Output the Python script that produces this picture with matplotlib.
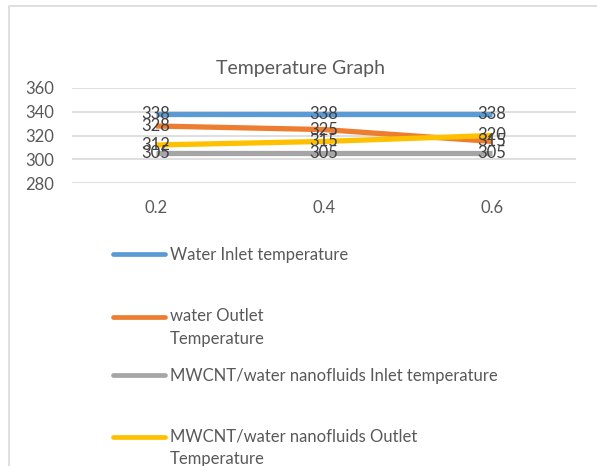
import matplotlib.pyplot as plt
from matplotlib.lines import Line2D
from matplotlib.patches import Rectangle

# data
categories = ['0.2', '0.4', '0.6']
water_inlet = [338, 338, 338]
water_outlet = [328, 325, 315]
nano_inlet = [305, 305, 305]
nano_outlet = [312, 315, 320]
series = [water_inlet, water_outlet, nano_inlet, nano_outlet]
names = ['Water Inlet temperature', 'water Outlet\nTemperature',
         'MWCNT/water nanofluids Inlet temperature',
         'MWCNT/water nanofluids Outlet\nTemperature']
colors = ['#5B9BD5', '#ED7D31', '#A5A5A5', '#FFC000']
y_ticks = [280, 300, 320, 340, 360]

plt.rcParams['font.family'] = ['Lato', 'DejaVu Sans']
txt = '#595959'
fs = 12
W, H = 597, 466

fig = plt.figure(figsize=(W / 100, H / 100), dpi=100)
ax = fig.add_axes([72 / W, 1 - 183 / H, (576 - 72) / W, (183 - 88) / H])

x = list(range(len(categories)))
for vals, col in zip(series, colors):
    ax.plot(x, vals, color=col, lw=3.8, solid_capstyle='butt', zorder=3)
for vals in series:
    for xi, v in zip(x, vals):
        ax.text(xi, v, str(v), ha='center', va='center', fontsize=fs,
                color='#404040', zorder=5)

ax.set_xlim(-0.5, len(categories) - 0.5)
ax.set_ylim(y_ticks[0], y_ticks[-1])
ax.set_yticks(y_ticks)
ax.set_xticks(x)
ax.set_xticklabels(categories)
ax.grid(axis='y', color='#d9d9d9', lw=1.2)
ax.set_axisbelow(True)
for s in ax.spines.values():
    s.set_visible(False)
ax.tick_params(axis='both', length=0, labelsize=fs, labelcolor=txt)
ax.tick_params(axis='y', pad=13)
ax.tick_params(axis='x', pad=12)

fig.text(300 / W, 1 - 68 / H, 'Temperature Graph', ha='center', va='center',
         fontsize=14, color=txt)

# one legend per entry (second line of wrapped names hangs below)
leg_y = [255, 316, 376, 436]
for name, col, yy in zip(names, colors, leg_y):
    lab = '\n' + name if '\n' in name else name
    h = Line2D([0], [0], color=col, lw=3.4, solid_capstyle='round')
    lg = fig.legend([h], [lab], loc='center left', bbox_to_anchor=(113 / W, 1 - yy / H),
                    frameon=False, fontsize=fs, labelcolor=txt, borderpad=0,
                    borderaxespad=0, handlelength=3.1, handletextpad=0.3)
    for t in lg.get_texts():
        t.set_linespacing(1.55)

fig.patches.append(Rectangle((8.5 / W, -0.1), 1.2, 1.1 - 6.5 / H,
                             transform=fig.transFigure, fill=False,
                             edgecolor='#d9d9d9', lw=1.2))

fig.savefig('out.png', dpi=100, facecolor='white')
